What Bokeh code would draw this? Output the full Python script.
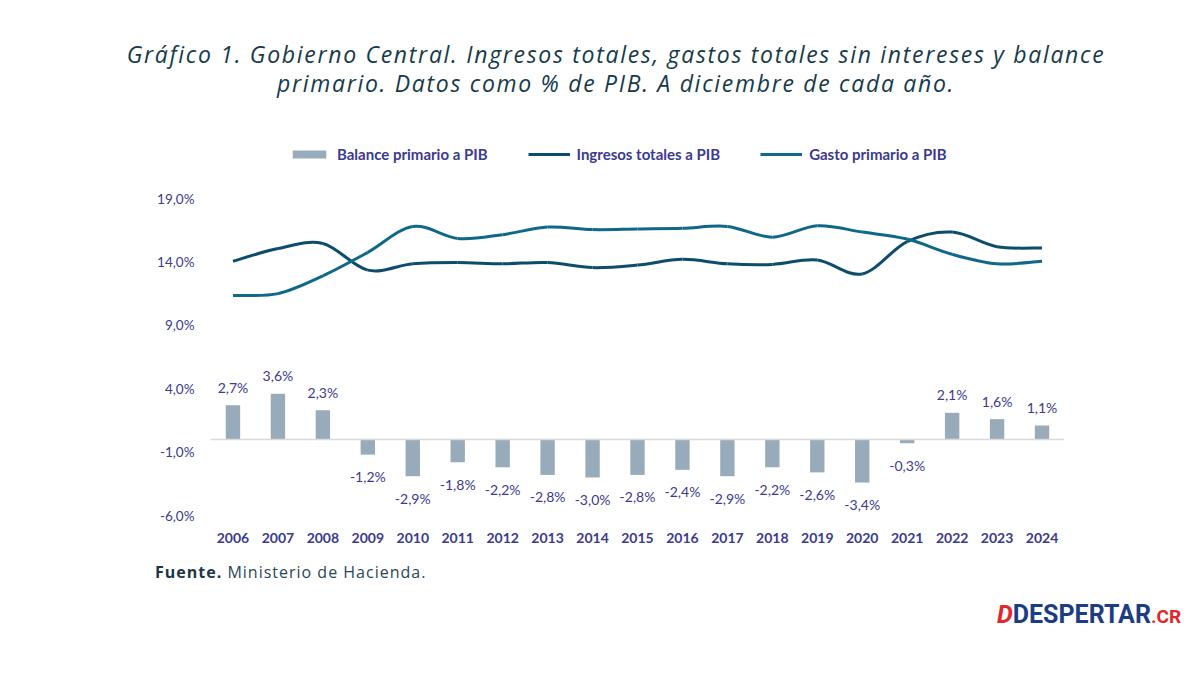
from bokeh.plotting import figure
from bokeh.layouts import column
from bokeh.models import (Range1d, FixedTicker, CustomJSTickFormatter, Legend,
                          LegendItem, ColumnDataSource, Span, Div)
from bokeh.core.properties import value
from bokeh.embed import file_html
from bokeh.resources import INLINE

# Costa Rica, Gobierno Central: % del PIB a diciembre de cada año
years = list(range(2006, 2025))
balance = [2.7, 3.6, 2.3, -1.2, -2.9, -1.8, -2.2, -2.8, -3.0, -2.8,
           -2.4, -2.9, -2.2, -2.6, -3.4, -0.3, 2.1, 1.6, 1.1]
ingresos = [14.05, 15.05, 15.45, 13.35, 13.85, 13.95, 13.85, 13.95, 13.55, 13.75,
            14.2, 13.85, 13.8, 14.15, 13.05, 15.6, 16.35, 15.2, 15.1]
gasto = [11.35, 11.5, 12.9, 14.75, 16.8, 15.85, 16.15, 16.75, 16.55, 16.6,
         16.65, 16.8, 15.95, 16.85, 16.35, 15.8, 14.6, 13.85, 14.05]
y_ticks = [-6, -1, 4, 9, 14, 19]

title_lines = ["Gráfico 1. Gobierno Central. Ingresos totales, gastos totales sin intereses y balance",
               "primario. Datos como % de PIB. A diciembre de cada año."]

INDIGO = "#3b3a8e"
TITLE_C = "#173a4b"
BAR_C = "#97abba"
ING_C = "#0d4d6c"
GAS_C = "#0f6889"


def pct(v):
    return f"{v:.1f}".replace(".", ",") + "%"


def smooth_segments(xs, ys):
    """Cubic Bezier segments (Catmull-Rom style) for a smoothed line."""
    n = len(xs)
    seg = dict(x0=[], y0=[], x1=[], y1=[], cx0=[], cy0=[], cx1=[], cy1=[])
    for i in range(n - 1):
        xp, yp = (xs[i - 1], ys[i - 1]) if i > 0 else (xs[i], ys[i])
        xn, yn = (xs[i + 2], ys[i + 2]) if i + 2 < n else (xs[i + 1], ys[i + 1])
        seg["x0"].append(xs[i]); seg["y0"].append(ys[i])
        seg["x1"].append(xs[i + 1]); seg["y1"].append(ys[i + 1])
        seg["cx0"].append(xs[i] + (xs[i + 1] - xp) / 6)
        seg["cy0"].append(ys[i] + (ys[i + 1] - yp) / 6)
        seg["cx1"].append(xs[i + 1] - (xn - xs[i]) / 6)
        seg["cy1"].append(ys[i + 1] - (yn - ys[i]) / 6)
    return ColumnDataSource(seg)


# page rows: title block 0-110 px, chart 110-555 px, footer 555-675 px
# chart frame: x 210..1064 px, y 135..525 px (page); 19% at 198 px, -6% at 515 px
scale = (515 - 198) / 25
y_top = 19 + (198 - 135) / scale
y_bot = -6 - (525 - 515) / scale

p = figure(width=1200, height=445, output_backend="svg", toolbar_location=None,
           x_range=Range1d(2005.5, 2024.5), y_range=Range1d(y_bot, y_top),
           min_border_left=210, min_border_right=136, min_border_top=25,
           min_border_bottom=30, margin=0)
p.background_fill_color = "white"
p.border_fill_color = "white"
p.outline_line_color = None
p.grid.visible = False

# axes
p.yaxis.ticker = FixedTicker(ticks=y_ticks)
p.yaxis.formatter = CustomJSTickFormatter(code="return tick.toFixed(1).replace('.', ',') + '%';")
p.xaxis.ticker = FixedTicker(ticks=years)
p.xaxis.formatter = CustomJSTickFormatter(code="return tick.toFixed(0);")
for ax in (p.xaxis, p.yaxis):
    ax.axis_line_color = None
    ax.major_tick_line_color = None
    ax.minor_tick_line_color = None
    ax.major_label_text_color = INDIGO
    ax.major_label_text_font = "Lato"
p.yaxis.major_label_text_font_size = "13.5px"
p.yaxis.major_label_standoff = 10
p.xaxis.major_label_text_font_size = "14px"
p.xaxis.major_label_text_font_style = "bold"
p.xaxis.major_label_standoff = 1

p.add_layout(Span(location=0, dimension="width", line_color="#d9d9d9", line_width=1.5))

# bars with value labels
src = ColumnDataSource(dict(
    x=years, top=balance,
    label=[pct(v) for v in balance],
    off=[-18 if v > 0 else 22 for v in balance],
))
bars = p.vbar(x="x", top="top", bottom=0, width=0.32, source=src,
              fill_color=BAR_C, line_color=None)
p.text(x="x", y="top", text="label", y_offset="off", source=src,
       text_align="center", text_baseline="middle", text_color=INDIGO,
       text_font=value("Lato"), text_font_size="14px")

# smoothed lines
r_ing = p.bezier(x0="x0", y0="y0", x1="x1", y1="y1", cx0="cx0", cy0="cy0",
                 cx1="cx1", cy1="cy1", source=smooth_segments(years, ingresos),
                 line_color=ING_C, line_width=3)
r_gas = p.bezier(x0="x0", y0="y0", x1="x1", y1="y1", cx0="cx0", cy0="cy0",
                 cx1="cx1", cy1="cy1", source=smooth_segments(years, gasto),
                 line_color=GAS_C, line_width=3)

legend = Legend(items=[
    LegendItem(label="Balance primario a PIB", renderers=[bars]),
    LegendItem(label="Ingresos totales a PIB", renderers=[r_ing]),
    LegendItem(label="Gasto primario a PIB", renderers=[r_gas]),
], orientation="horizontal", location=(78, 362))
legend.padding = 0
legend.margin = 0
legend.spacing = 40
legend.glyph_width = 42
legend.glyph_height = 10
legend.label_standoff = 7
legend.label_height = 14
legend.label_text_font = "Lato"
legend.label_text_font_style = "bold"
legend.label_text_font_size = "15px"
legend.label_text_color = INDIGO
legend.border_line_alpha = 0
legend.background_fill_alpha = 0
p.add_layout(legend, "center")

title = Div(width=1200, height=110, margin=0, text=(
    '<div style="position:relative;width:1200px;height:110px;">'
    '<div style="position:absolute;left:16px;top:40px;width:1200px;text-align:center;'
    "white-space:nowrap;font-family:'Open Sans';font-style:italic;font-weight:500;"
    f'font-size:23px;letter-spacing:1.7px;line-height:29px;color:{TITLE_C};">'
    f'{title_lines[0]}<br>{title_lines[1]}</div></div>'
))

footer = Div(width=1200, height=120, margin=0, text=(
    '<div style="position:relative;width:1200px;height:120px;">'
    '<div style="position:absolute;left:155px;top:7px;white-space:nowrap;'
    "font-family:'Open Sans';font-size:16px;letter-spacing:1px;line-height:20px;"
    'color:#2c4654;">'
    '<b style="color:#1b3644;">Fuente.</b> Ministerio de Hacienda.</div>'
    '<div style="position:absolute;left:997px;top:46px;white-space:nowrap;'
    'font-family:Roboto;font-weight:bold;font-size:25px;line-height:28px;">'
    '<span style="color:#e2262c;font-style:italic;">D</span>'
    '<span style="color:#1d3c86;">DESPERTAR</span>'
    '<span style="color:#e2262c;font-size:19px;">.CR</span></div>'
    '</div>'
))

layout = column(title, p, footer, spacing=0)
open("out.html", "w").write(file_html(layout, INLINE))
